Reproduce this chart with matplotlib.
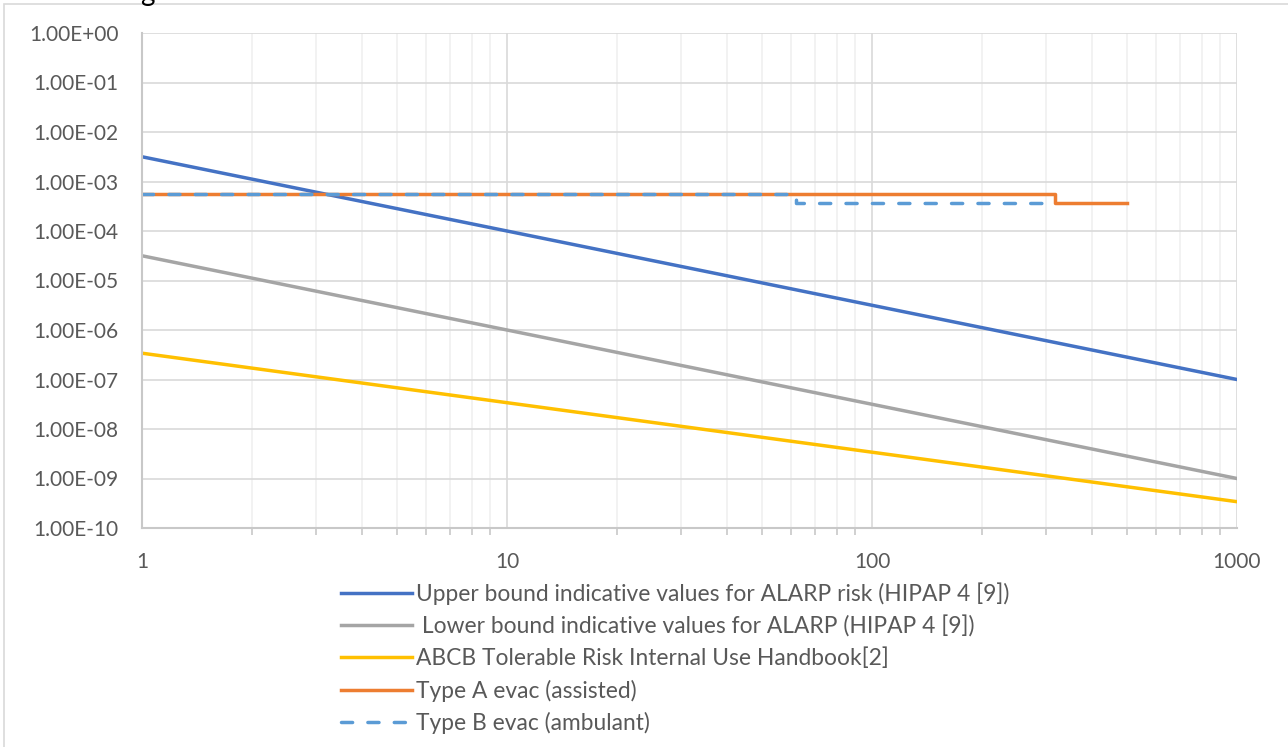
import matplotlib.pyplot as plt
from matplotlib.patches import Rectangle
from matplotlib.ticker import LogLocator, FixedLocator, NullFormatter

# data
n_line = [1, 10, 100, 1000]
upper_alarp = [3.16e-3, 1.0e-4, 3.16e-6, 1.0e-7]
lower_alarp = [3.16e-5, 1.0e-6, 3.16e-8, 1.0e-9]
abcb = [3.4e-7, 3.4e-8, 3.4e-9, 3.4e-10]

n_type_a = [1, 317, 317, 500]
type_a = [5.5e-4, 5.5e-4, 3.7e-4, 3.7e-4]
n_type_b = [1, 62, 62, 310]
type_b = [5.5e-4, 5.5e-4, 3.7e-4, 3.7e-4]

labels = ["Upper bound indicative values for ALARP risk (HIPAP 4 [9])",
          " Lower bound indicative values for ALARP (HIPAP 4 [9])",
          "ABCB Tolerable Risk Internal Use Handbook[2]",
          "Type A evac (assisted)",
          "Type B evac (ambulant)"]

y_ticks = [10.0 ** k for k in range(0, -11, -1)]
y_labels = ["1.00E+00"] + ["1.00E-%02d" % k for k in range(1, 11)]

plt.rcParams['font.family'] = ['Lato', 'DejaVu Sans']
txt = '#595959'

fig = plt.figure(figsize=(12.88, 7.47), dpi=100)
W, H = 1288, 747
ax = fig.add_axes([142 / W, 1 - 528 / H, (1237 - 142) / W, (528 - 33) / H])

# chart border and cut-off title
fig.patches.append(Rectangle((4 / W, -0.1), 1.2, 1 - 4 / H + 0.1, transform=fig.transFigure,
                             fill=False, edgecolor='#d9d9d9', lw=1.2))
fig.text(140 / W, 1 - 1 / H, "g", va='baseline', fontsize=20, color='black')

lw = 2.5
ax.plot(n_line, upper_alarp, color='#4472c4', lw=lw, label=labels[0])
ax.plot(n_line, lower_alarp, color='#a5a5a5', lw=lw, label=labels[1])
ax.plot(n_line, abcb, color='#ffc000', lw=lw, label=labels[2])
ax.plot(n_type_a, type_a, color='#ed7d31', lw=lw, label=labels[3])
ax.plot(n_type_b, type_b, color='#5b9bd5', lw=lw, ls=(0, (3.2, 4.4)),
        dash_capstyle='round', label=labels[4])

ax.set_xscale('log')
ax.set_yscale('log')
ax.set_xlim(1, 1000)
ax.set_ylim(1e-10, 1)

ax.xaxis.set_major_locator(FixedLocator([1, 10, 100, 1000]))
ax.set_xticklabels(["1", "10", "100", "1000"])
ax.xaxis.set_minor_locator(LogLocator(base=10, subs=range(2, 10)))
ax.xaxis.set_minor_formatter(NullFormatter())
ax.yaxis.set_major_locator(FixedLocator(y_ticks))
ax.set_yticklabels(y_labels)
ax.yaxis.set_minor_locator(FixedLocator([]))

ax.grid(True, which='major', color='#d9d9d9', lw=1.2)
ax.grid(True, which='minor', axis='x', color='#f0f0f0', lw=1.2)
ax.set_axisbelow(True)

for s in ['top', 'right']:
    ax.spines[s].set_visible(False)
for s in ['left', 'bottom']:
    ax.spines[s].set_color('#c8c8c8')
    ax.spines[s].set_linewidth(1.5)

ax.tick_params(axis='y', which='both', length=0, pad=17, labelsize=15, labelcolor=txt)
ax.tick_params(axis='x', which='major', length=0, pad=17, labelsize=15, labelcolor=txt)
ax.tick_params(axis='x', which='minor', length=5, color='#c8c8c8', width=1.2)

fig.legend(loc='upper left', bbox_to_anchor=(332 / W, 1 - 573 / H), frameon=False,
           fontsize=16.4, labelcolor=txt, handlelength=3.1, handletextpad=0.18,
           labelspacing=0.455, borderaxespad=0)

fig.savefig('out.png', dpi=100)
